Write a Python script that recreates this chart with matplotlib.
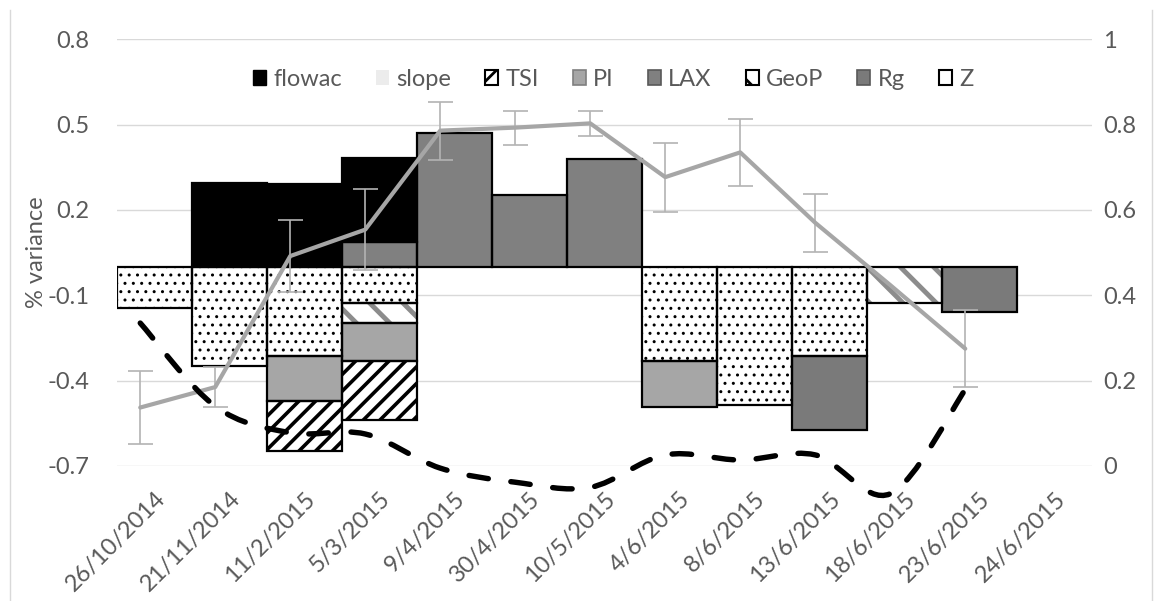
import numpy as np
import matplotlib.pyplot as plt
from matplotlib.patches import Patch, PathPatch
from matplotlib.path import Path
from matplotlib.lines import Line2D

plt.rcParams['font.family'] = ['Lato', 'DejaVu Sans']
plt.rcParams['axes.unicode_minus'] = False
plt.rcParams['hatch.linewidth'] = 2.0

# --- data ---
dates = ['26/10/2014', '21/11/2014', '11/2/2015', '5/3/2015', '9/4/2015',
         '30/4/2015', '10/5/2015', '4/6/2015', '8/6/2015', '13/6/2015',
         '18/6/2015', '23/6/2015', '24/6/2015']

flowac = [0, 0.295, 0.292, 0.296, 0, 0, 0, 0, 0, 0, 0, 0, 0]
tsi = [0, 0, -0.176, -0.207, 0, 0, 0, 0, 0, 0, 0, 0, 0]
pi = [0, 0, -0.155, -0.134, 0, 0, 0, -0.164, 0, 0, 0, 0, 0]
lax = [0, 0, 0, 0.087, 0.469, 0.254, 0.38, 0, 0, 0, 0, 0, 0]
geop = [0, 0, 0, -0.069, 0, 0, 0, 0, 0, 0, -0.126, 0, 0]
rg = [0, 0, 0, 0, 0, 0, 0, 0, 0, -0.257, 0, -0.157, 0]
z = [-0.145, -0.35, -0.315, -0.127, 0, 0, 0, -0.33, -0.484, -0.315, 0, 0, 0]

# secondary axis series
slope = [0.137, 0.185, 0.492, 0.554, 0.786, 0.793, 0.803, 0.677, 0.735,
         0.57, 0.424, 0.275, np.nan]
slope_err = [0.085, 0.047, 0.085, 0.095, 0.068, 0.04, 0.029, 0.081, 0.078,
             0.068, np.nan, 0.09, np.nan]
dashed = [0.335, 0.14, 0.078, 0.075, -0.005, -0.038, -0.05, 0.026, 0.014,
          0.026, -0.065, 0.179, np.nan]

# styles: face, hatch colour, hatch pattern, hatch width
styles = {
    'flowac': dict(face='black', hc='black', hatch=None),
    'TSI': dict(face='white', hc='black', hatch='//', hw=2.6),
    'PI': dict(face='#a6a6a6', hc='black', hatch=None),
    'LAX': dict(face='#808080', hc='black', hatch=None),
    'GeoP': dict(face='white', hc='#8c8c8c', hatch='\\', hw=3.5),
    'Rg': dict(face='#7a7a7a', hc='black', hatch=None),
    'Z': dict(face='white', hc='black', hatch='..', hw=1.0),
}
series = {'flowac': flowac, 'TSI': tsi, 'PI': pi, 'LAX': lax,
          'GeoP': geop, 'Rg': rg, 'Z': z}
# stacking from zero outwards
stack_order = ['Z', 'Rg', 'GeoP', 'LAX', 'PI', 'TSI', 'flowac']

text_col = '#595959'
fs = 17

fig = plt.figure(figsize=(11.57, 6.01), dpi=100)
fig.subplots_adjust(left=117 / 1157, right=1092 / 1157,
                    top=1 - 39.3 / 601, bottom=1 - 466 / 601)
ax = fig.add_subplot(111)
x = np.arange(len(dates))

pos_base = np.zeros(len(dates))
neg_base = np.zeros(len(dates))
for name in stack_order:
    vals = np.array(series[name], dtype=float)
    m = vals != 0
    base = np.where(vals >= 0, pos_base, neg_base)
    st = styles[name]
    bars = ax.bar(x[m], vals[m], width=1.0, bottom=base[m], color=st['face'],
                  edgecolor=st['hc'], hatch=st['hatch'], linewidth=0, zorder=2)
    if st['hatch'] and hasattr(bars.patches[0], 'set_hatch_linewidth'):
        for p in bars.patches:
            p.set_hatch_linewidth(st['hw'])
    ax.bar(x[m], vals[m], width=1.0, bottom=base[m], fill=False,
           edgecolor='black', linewidth=1.6, zorder=3)
    pos_base += np.where(vals > 0, vals, 0)
    neg_base += np.where(vals < 0, vals, 0)

ax.set_xlim(-0.5, len(dates) - 0.5)
ax.set_ylim(-0.7, 0.8)
ax.set_yticks([-0.7, -0.4, -0.1, 0.2, 0.5, 0.8])
ax.set_yticklabels(['-0.7', '-0.4', '-0.1', '0.2', '0.5', '0.8'])
ax.yaxis.grid(True, color='#d9d9d9', linewidth=1)
ax.set_axisbelow(True)
ax.set_xticks(x)
ax.set_xticklabels(dates, rotation=45, ha='right', rotation_mode='anchor')
ax.tick_params(axis='x', length=0, pad=16, labelsize=fs, labelcolor=text_col)
ax.tick_params(axis='y', length=0, pad=20, labelsize=fs, labelcolor=text_col)
ax.set_ylabel('% variance', fontsize=fs, color=text_col)
ax.yaxis.set_label_coords(-0.072, 0.5)
for s in ax.spines.values():
    s.set_visible(False)

# secondary axis: slope line with error bars and the smoothed dashed line
ax2 = ax.twinx()
ax2.set_ylim(0, 1)
ax2.set_yticks([0, 0.2, 0.4, 0.6, 0.8, 1])
ax2.set_yticklabels(['0', '0.2', '0.4', '0.6', '0.8', '1'])
ax2.tick_params(axis='y', length=0, pad=8, labelsize=fs, labelcolor=text_col)
for s in ax2.spines.values():
    s.set_visible(False)

shift = -0.19  # line series sit slightly left of the bar centres
xl = x + shift
slope = np.array(slope)
slope_err = np.array(slope_err)
me = ~np.isnan(slope_err)
ax2.errorbar(xl[me], slope[me], yerr=slope_err[me], fmt='none',
             ecolor='#b3b3b3', elinewidth=1.2, capsize=9, capthick=1.2, zorder=4)
ax2.plot(xl, slope, color='#a6a6a6', linewidth=3, zorder=5,
         solid_capstyle='round')

# smoothed dashed line (Catmull-Rom style bezier through the points)
dashed = np.array(dashed)
md = ~np.isnan(dashed)
pts = np.column_stack([xl[md], dashed[md]])
verts = [pts[0]]
codes = [Path.MOVETO]
for i in range(len(pts) - 1):
    p0 = pts[max(i - 1, 0)]
    p1 = pts[i]
    p2 = pts[i + 1]
    p3 = pts[min(i + 2, len(pts) - 1)]
    verts += [p1 + (p2 - p0) / 6, p2 - (p3 - p1) / 6, p2]
    codes += [Path.CURVE4] * 3
dash_patch = PathPatch(Path(verts, codes), fill=False, edgecolor='black',
                       linewidth=3.9, linestyle=(0, (3.6, 4.2)),
                       capstyle='round', clip_on=False, zorder=6)
ax2.add_patch(dash_patch)

# legend
handles = [
    Patch(facecolor='black', edgecolor='black', label='flowac'),
    Patch(facecolor='#ececec', edgecolor='none', label='slope'),
    Patch(facecolor='white', edgecolor='black', hatch='//', lw=1.5, label='TSI'),
    Patch(facecolor='#a6a6a6', edgecolor='#7f7f7f', lw=1.2, label='PI'),
    Patch(facecolor='#808080', edgecolor='#595959', lw=1.2, label='LAX'),
    Patch(facecolor='white', edgecolor='black', hatch='\\', lw=1.5, label='GeoP'),
    Patch(facecolor='#7a7a7a', edgecolor='#595959', lw=1.2, label='Rg'),
    Patch(facecolor='white', edgecolor='black', lw=1.5, label='Z'),
]
leg = ax2.legend(handles=handles, loc='center', ncol=8, frameon=False,
                 bbox_to_anchor=(0.53, 0.868), bbox_transform=fig.transFigure,
                 fontsize=fs, handlelength=0.55, handleheight=0.55,
                 handletextpad=0.3, columnspacing=1.45)
for t in leg.get_texts():
    t.set_color(text_col)

# chart frame edges
for fx in (10 / 1157, 1152 / 1157):
    fig.add_artist(Line2D([fx, fx], [0, 1 - 10 / 601], transform=fig.transFigure,
                          color='#d9d9d9', linewidth=1))

fig.savefig('out.png', dpi=100)
